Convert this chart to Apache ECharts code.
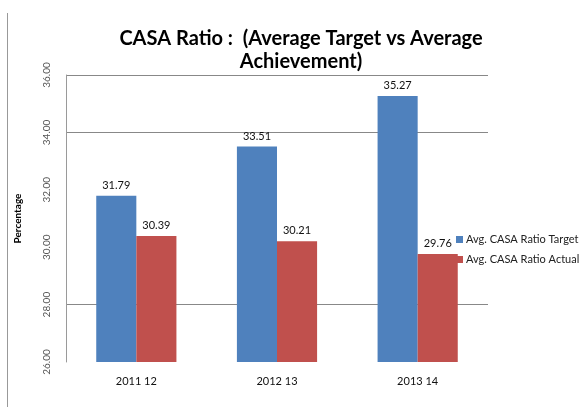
<!DOCTYPE html>
<html>
<head>
<meta charset="utf-8">
<script src="https://cdn.jsdelivr.net/npm/echarts@6/dist/echarts.min.js"></script>
<style>
  html, body { margin: 0; padding: 0; background: #fff; }
  #main { width: 588px; height: 407px; }
</style>
</head>
<body>
<div id="main"></div>
<script>
"use strict";

// periods on the x axis
const years = ['2011 12', '2012 13', '2013 14'];
// average CASA ratio target
const targetValues = [31.79, 33.51, 35.27];
// average CASA ratio actual
const actualValues = [30.39, 30.21, 29.76];
// series names
const seriesNames = ['Avg. CASA Ratio Target', 'Avg. CASA Ratio Actual'];

const chart = echarts.init(document.getElementById('main'));

const labelFont = 'Lato, "Liberation Sans", sans-serif';

const option = {
    animation: false,
    title: {
        text: 'CASA Ratio :  (Average Target vs Average\nAchievement)',
        left: 296,
        textAlign: 'center',
        top: 22,
        textStyle: {
            fontFamily: labelFont,
            fontWeight: 'bold',
            fontSize: 20,
            lineHeight: 23,
            color: '#000'
        }
    },
    legend: {
        orient: 'vertical',
        left: 451,
        top: 229,
        itemWidth: 7,
        itemHeight: 7,
        itemGap: 9,
        icon: 'rect',
        textStyle: {
            fontFamily: labelFont,
            fontSize: 11,
            color: '#222',
            padding: [0, 0, 0, -2]
        },
        data: seriesNames
    },
    grid: {
        left: 66,
        right: 100,
        top: 75,
        bottom: 45
    },
    xAxis: {
        type: 'category',
        data: years,
        axisLine: { show: false },
        axisTick: { show: false },
        axisLabel: {
            margin: 14,
            fontFamily: labelFont,
            fontSize: 11,
            color: '#111'
        }
    },
    yAxis: {
        type: 'value',
        min: 26,
        max: 36,
        interval: 2,
        name: 'Percentage',
        nameLocation: 'middle',
        nameRotate: 90,
        nameGap: 43,
        nameTextStyle: {
            fontFamily: labelFont,
            fontWeight: 'bold',
            fontSize: 10,
            color: '#000'
        },
        axisLine: { show: true, lineStyle: { color: '#9a9a9a', width: 1 } },
        axisTick: { show: false },
        axisLabel: {
            rotate: 90,
            margin: 14,
            fontFamily: labelFont,
            fontSize: 10,
            color: '#555',
            formatter: v => v.toFixed(2)
        },
        splitLine: {
            show: true,
            // only the 28, 34 and 36 lines show in the original
            lineStyle: {
                color: ['rgba(0,0,0,0)', '#888', 'rgba(0,0,0,0)', 'rgba(0,0,0,0)', '#888', '#888'],
                width: 1
            }
        }
    },
    graphic: [{
        type: 'line',
        shape: { x1: 7.5, y1: 13, x2: 7.5, y2: 407 },
        style: { stroke: '#999', lineWidth: 1 }
    }],
    series: [{
        name: seriesNames[0],
        type: 'bar',
        data: targetValues,
        barGap: 0,
        barCategoryGap: '43%',
        itemStyle: { color: '#4F81BD' },
        label: {
            show: true,
            position: 'top',
            distance: 5,
            fontFamily: labelFont,
            fontSize: 11,
            color: '#111',
            formatter: p => p.value.toFixed(2)
        }
    }, {
        name: seriesNames[1],
        type: 'bar',
        data: actualValues,
        barGap: 0,
        barCategoryGap: '43%',
        itemStyle: { color: '#C0504D' },
        label: {
            show: true,
            position: 'top',
            distance: 5,
            fontFamily: labelFont,
            fontSize: 11,
            color: '#111',
            formatter: p => p.value.toFixed(2)
        }
    }]
};
chart.setOption(option);
</script>
</body>
</html>
